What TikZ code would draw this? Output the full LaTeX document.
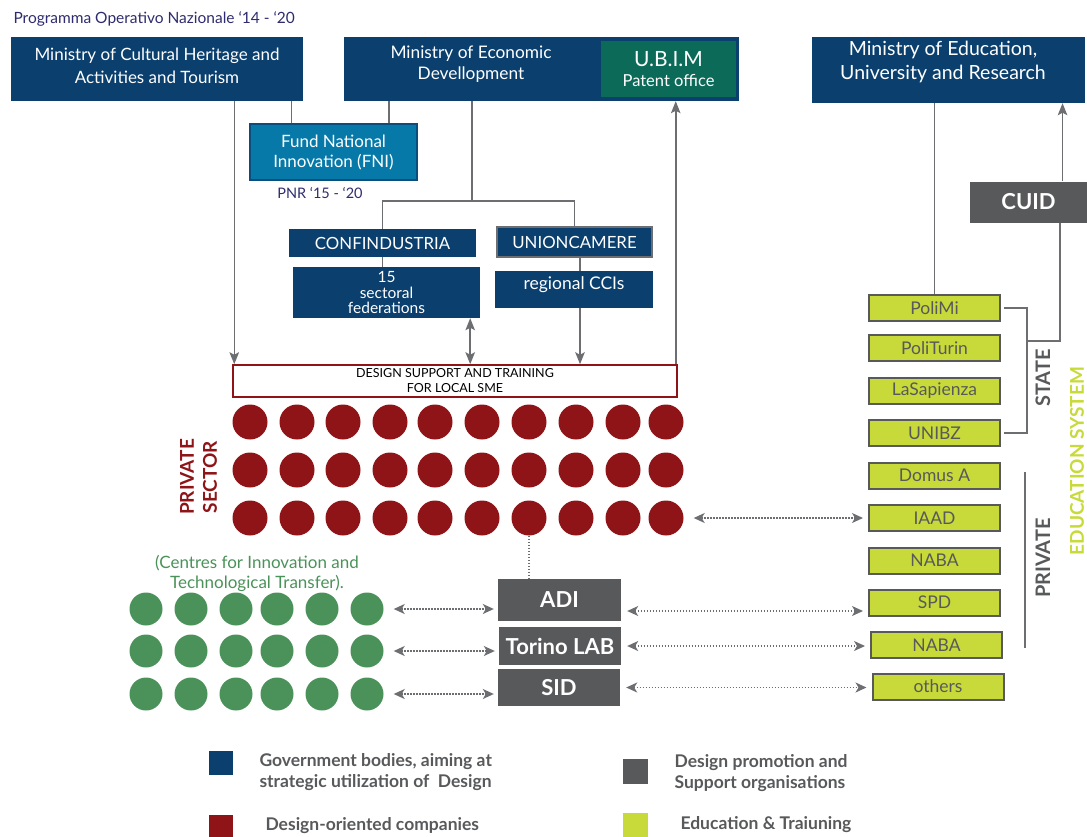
\documentclass[tikz,border=0pt]{standalone}
\usepackage{fontspec}
\setmainfont{Lato}
\usetikzlibrary{arrows.meta,calc}

\definecolor{govblue}{HTML}{0A3F6E}
\definecolor{fniblue}{HTML}{0779A8}
\definecolor{fniedge}{HTML}{0A4E7E}
\definecolor{ubimgreen}{HTML}{0B6B58}
\definecolor{compred}{HTML}{8E1418}
\definecolor{citgreen}{HTML}{4A9259}
\definecolor{orggray}{HTML}{58595B}
\definecolor{edulime}{HTML}{C8DA3A}
\definecolor{linegray}{HTML}{6D6E71}
\definecolor{inkblue}{HTML}{2E2C6E}

\tikzset{
  gtip/.tip={Stealth[length=12pt,width=9.5pt,inset=2.5pt]},
  dtip/.tip={Stealth[length=11pt,width=10pt,inset=3pt]},
  box/.style={rectangle, inner sep=0pt, align=center},
  gov/.style={box, fill=govblue, text=white},
  org/.style={box, fill=orggray, text=white, font=\bfseries\fontsize{22}{25}\selectfont},
  edu/.style={box, fill=edulime, draw=orggray, line width=2pt, text=orggray,
    minimum width=131pt, minimum height=26pt, font=\fontsize{17.5}{20}\selectfont},
  rdot/.style={circle, fill=compred, minimum size=35pt, inner sep=0pt},
  gdot/.style={circle, fill=citgreen, minimum size=33pt, inner sep=0pt},
  conn/.style={draw=linegray, line width=1.5pt},
  arr/.style={conn, -gtip},
  dblarr/.style={conn, gtip-gtip},
  dotarr/.style={draw=linegray, line width=1.4pt, dash pattern=on 1.4pt off 1.6pt, dtip-dtip},
  sidetxt/.style={rotate=90, text=orggray, font=\bfseries\fontsize{20}{23}\selectfont},
  legtxt/.style={anchor=west, align=left, text=orggray, font=\bfseries\fontsize{17.5}{21}\selectfont},
  legsq/.style={minimum size=24pt, inner sep=0pt}
}

\begin{document}
\begin{tikzpicture}[x=1pt,y=-1pt]
  \useasboundingbox (0,0) rectangle (1087,836);

  % government bodies
  \node[anchor=west, text=inkblue, font=\fontsize{15.5}{18}\selectfont] (pon) at (10,19)
    {Programma Operativo Nazionale ‘14 - ‘20};
  \node[gov, minimum width=292pt, minimum height=64pt] (mcult) at (157,69) {};
  \node[text=white, align=center, font=\fontsize{17}{23}\selectfont] (mculttxt) at (157,66)
    {Ministry of Cultural Heritage and\\Activities and Tourism};
  \node[gov, minimum width=395pt, minimum height=64pt] (mecon) at (541.5,69) {};
  \node[text=white, align=center, font=\fontsize{17.3}{20.5}\selectfont] (mecontxt) at (471,64)
    {Ministry of Economic\\Devellopment};
  \node[box, fill=ubimgreen, text=white, minimum width=135pt, minimum height=56pt,
    font=\fontsize{16.5}{19}\selectfont] (ubim) at (668.5,69)
    {{\fontsize{21}{21}\selectfont U.B.I.M}\\[1.5pt]Patent office};
  \node[gov, minimum width=273pt, minimum height=66pt] (medu) at (948.5,70) {};
  \node[text=white, align=center, font=\fontsize{19.5}{24}\selectfont] (medutxt) at (943,62)
    {Ministry of Education,\\University and Research};
  \node[box, fill=fniblue, draw=fniedge, line width=1.5pt, text=white, minimum width=167pt,
    minimum height=56pt, font=\fontsize{17}{20}\selectfont] (fni) at (333.5,152)
    {Fund National\\Innovation (FNI)};
  \node[text=inkblue, font=\fontsize{14.5}{17}\selectfont] (pnr) at (320,193) {PNR ‘15 - ‘20};
  \node[gov, minimum width=187pt, minimum height=28pt, font=\fontsize{16.8}{19}\selectfont] (conf)
    at (382.5,243) {CONFINDUSTRIA};
  \node[gov, draw=linegray, line width=1.5pt, minimum width=155pt, minimum height=30pt,
    font=\fontsize{16.8}{19}\selectfont] (union) at (574.5,242) {UNIONCAMERE};
  \node[gov, minimum width=187pt, minimum height=51pt, font=\fontsize{15.5}{15.5}\selectfont] (fed)
    at (386.5,292.5) {15\\sectoral\\federations};
  \node[gov, minimum width=158pt, minimum height=37pt, text height=11pt, text depth=12pt,
    font=\fontsize{17.5}{20}\selectfont] (cci) at (574,289.5) {regional CCIs};
  \node[box, fill=white, draw=compred, line width=1.5pt, minimum width=444pt, minimum height=32pt,
    font=\fontsize{12.5}{15}\selectfont] (dsup) at (455,381)
    {DESIGN SUPPORT AND TRAINING\\FOR LOCAL SME};

  % links between bodies
  \coordinate (hub) at (472,201);
  \draw[conn] (mecon.south -| hub) -- (hub);
  \draw[conn] (conf.north) |- (hub) -| (union.north);
  \coordinate (f1) at ($(fni.north west)!0.25!(fni.north east)$);
  \draw[conn] (f1 |- mcult.south) -- (f1);
  \coordinate (f2) at ($(fni.north west)!0.83!(fni.north east)$);
  \draw[conn] (f2 |- mecon.south) -- (f2);
  \draw[conn] (conf.south) -- (conf.south |- fed.north);
  \coordinate (d3) at ($(cci.south)+(6,0)$);
  \draw[conn] (d3 |- union.south) -- (d3 |- cci.north);
  \coordinate (d1) at ($(dsup.north west)+(2,0)$);
  \draw[arr] (d1 |- mcult.south) -- (d1);
  \coordinate (d2) at ($(fed.south east)+(-10,0)$);
  \draw[dblarr] (d2) -- (d2 |- dsup.north);
  \draw[arr] (d3) -- (d3 |- dsup.north);
  \coordinate (d4) at ($(dsup.north east)+(-2,0)$);
  \draw[arr] (d4) -- (d4 |- mecon.south);

  % design-oriented companies
  \foreach \c [count=\i] in {250,297,343,390,435,482,529,576,623,666}
    \foreach \r [count=\j] in {422,470,518}
      \node[rdot] (r-\i-\j) at (\c,\r) {};
  \node[rotate=90, text=compred, align=center, font=\bfseries\fontsize{19}{23}\selectfont] (privsec)
    at (198.5,477) {PRIVATE\\SECTOR};

  % centres for innovation
  \node[text=citgreen, align=center, font=\fontsize{17}{20}\selectfont] (citt) at (257,573)
    {(Centres for Innovation and\\Technological Transfer).};
  \foreach \c [count=\i] in {146,191,236,277,322,367}
    \foreach \r [count=\j] in {609,651,694}
      \node[gdot] (g-\i-\j) at (\c,\r) {};

  % design promotion
  \node[org, minimum width=123pt, minimum height=42pt] (adi) at (559.5,600) {ADI};
  \node[org, minimum width=122pt, minimum height=38pt] (torino) at (560,646) {Torino LAB};
  \node[org, minimum width=122pt, minimum height=37pt] (sid) at (559,687.5) {SID};
  \node[org, minimum width=117pt, minimum height=41pt] (cuid) at (1028.5,202) {CUID};

  % education system
  \foreach \n/\t/\x/\y in {polimi/PoliMi/934.5/308, politurin/PoliTurin/934.5/348,
      sapienza/LaSapienza/934.5/390.5, unibz/UNIBZ/934.5/433, domus/Domus A/934.5/475.5,
      iaad/IAAD/934.5/518, naba/NABA/934.5/560.5, spd/SPD/934.5/602.5,
      naba2/NABA/936.5/645, others/others/938/686.5}
    \node[edu] (\n) at (\x,\y) {\t};

  \draw[conn] (polimi.north |- medu.south) -- (polimi.north);
  \coordinate (stx) at ($(polimi.east)+(26,0)$);
  \draw[conn] ($(polimi.east)+(3,0)$) -- (stx) -- (stx |- unibz.east) -- ($(unibz.east)+(3,0)$);
  \coordinate (stm) at ($(stx)+(0,33)$);
  \coordinate (cb) at ($(cuid.south west)!0.77!(cuid.south east)$);
  \draw[conn] (stm) -| (cb);
  \coordinate (ct) at ($(cuid.north west)!0.79!(cuid.north east)$);
  \draw[arr] (ct) -- (ct |- medu.south);
  \draw[conn] (1025,472) -- (1025,648);
  \node[sidetxt] (state) at (1043,378) {STATE};
  \node[sidetxt] (private) at (1043,558) {PRIVATE};
  \node[rotate=90, text=edulime, font=\bfseries\fontsize{19}{22}\selectfont] (edusys) at (1077,461)
    {EDUCATION SYSTEM};

  % dotted exchanges
  \draw[dotarr, shorten <=10pt, shorten >=5pt] (r-10-3.east) -- (r-10-3.east -| iaad.west);
  \draw[draw=linegray, line width=1.4pt, dash pattern=on 1.4pt off 1.6pt]
    (r-7-3.south) -- (r-7-3.south |- adi.north);
  \foreach \j/\b in {1/adi,2/torino,3/sid}
    \draw[dotarr, shorten <=10pt, shorten >=4pt] (g-6-\j.east) -- (g-6-\j.east -| \b.west);
  \coordinate (adir) at ($(adi.east)+(0,11)$);
  \draw[dotarr, shorten <=6pt, shorten >=5pt] (adir) -- (adir -| spd.west);
  \draw[dotarr, shorten <=6pt, shorten >=5pt] (torino.east) -- (torino.east -| naba2.west);
  \draw[dotarr, shorten <=6pt, shorten >=5pt] (sid.east) -- (sid.east -| others.west);

  % legend
  \node[legsq, fill=govblue] (lgov) at (221,763) {};
  \node[legtxt] (lgovtxt) at (256,772) {Government bodies, aiming at\\strategic utilization of~ Design};
  \node[legsq, fill=compred] (lcomp) at (221,827) {};
  \node[legtxt] (lcomptxt) at (262,826) {Design-oriented companies};
  \node[legsq, minimum size=25pt, fill=orggray] (lorg) at (635.5,771.5) {};
  \node[legtxt] (lorgtxt) at (671,773) {Design promotion and\\Support organisations};
  \node[legsq, minimum size=25pt, fill=edulime] (ledu) at (635.5,825) {};
  \node[legtxt] (ledutxt) at (677,825) {Education \& Traiuning};
\end{tikzpicture}
\end{document}
